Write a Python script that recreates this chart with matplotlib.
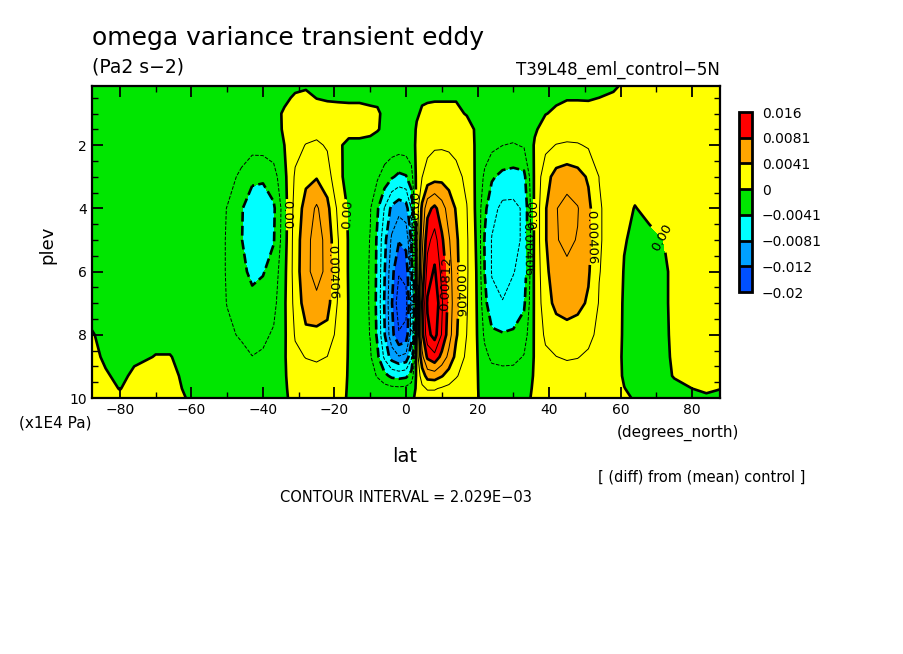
import numpy as np
import matplotlib.pyplot as plt
from matplotlib.colors import ListedColormap, BoundaryNorm

# latitude (degrees_north) and pressure level (x1E4 Pa)
lat = [-87.8, -84, -80, -76, -70, -66, -61, -55, -50, -46, -43, -40, -37, -34,
       -31, -28, -25, -22, -19, -16, -13, -10, -8, -6, -4, -2, 0, 1.5, 3, 4.5,
       6, 8, 10, 12, 14, 17, 20, 22, 24, 27, 30, 33, 36, 39, 42, 45, 48, 51,
       54, 58, 61, 64, 68, 72, 75, 80, 84, 87.8]
plev = [0.13, 0.5, 1, 1.5, 2, 3, 4, 5, 6, 7, 8, 8.7, 9.3, 9.7, 10]

# omega variance (diff), units of 1e-3 Pa2 s-2; one row per latitude, columns follow plev
omega = [
    [-0.4, -0.5, -0.5, -0.4, -0.5, -0.5, -0.5, -0.5, -0.5, -0.6, 0.1, 0.5, 0.7, 0.8, 0.8],      # -87.8
    [-0.4, -0.5, -0.5, -0.5, -0.5, -0.5, -0.5, -0.5, -0.5, -0.5, -0.4, -0.3, 0.2, 0.4, 0.4],    # -84
    [-0.4, -0.5, -0.5, -0.5, -0.5, -0.5, -0.5, -0.5, -0.5, -0.5, -0.5, -0.5, -0.4, -0.05, 0.3], # -80
    [-0.4, -0.5, -0.5, -0.5, -0.5, -0.5, -0.5, -0.5, -0.5, -0.5, -0.5, -0.3, 0.3, 0.5, 0.5],    # -76
    [-0.4, -0.5, -0.5, -0.5, -0.5, -0.5, -0.5, -0.5, -0.5, -0.5, -0.4, 0.05, 0.4, 0.5, 0.5],    # -70
    [-0.4, -0.5, -0.5, -0.5, -0.5, -0.5, -0.5, -0.5, -0.5, -0.5, -0.4, 0.05, 0.3, 0.4, 0.4],    # -66
    [-0.4, -0.5, -0.5, -0.5, -0.5, -0.5, -0.5, -0.5, -0.5, -0.5, -0.5, -0.4, -0.3, -0.2, -0.05],  # -61
    [-0.4, -0.5, -0.5, -0.5, -0.5, -0.5, -0.6, -0.6, -0.6, -0.6, -0.6, -0.5, -0.5, -0.5, -0.5],  # -55
    [-0.4, -0.5, -0.5, -0.5, -0.6, -1.2, -2.1, -2.2, -2.2, -2.1, -1.6, -1.0, -0.6, -0.5, -0.5],  # -50
    [-0.4, -0.5, -0.5, -0.6, -0.9, -2.5, -3.9, -4.0, -3.6, -3.0, -2.3, -1.4, -0.8, -0.6, -0.5],  # -46
    [-0.4, -0.5, -0.5, -0.7, -1.3, -3.6, -5.2, -5.0, -4.5, -3.5, -2.6, -2.0, -1.0, -0.6, -0.5],  # -43
    [-0.4, -0.5, -0.5, -0.7, -1.2, -3.7, -5.4, -5.0, -4.2, -3.2, -2.4, -1.8, -1.0, -0.6, -0.5],  # -40
    [-0.4, -0.5, -0.5, -0.6, -1.0, -2.8, -4.4, -4.2, -3.2, -2.6, -1.8, -1.2, -0.7, -0.5, -0.5],  # -37
    [-0.4, -0.3, 0.2, 0.2, 0.0, -0.5, -0.9, -0.8, -0.5, -0.3, -0.3, -0.2, -0.2, -0.2, -0.2],     # -34
    [-0.3, 0.2, 0.6, 0.9, 1.4, 2.3, 2.8, 3.0, 3.0, 2.7, 2.2, 1.6, 1.0, 0.6, 0.4],                # -31
    [-0.2, 0.4, 0.8, 1.2, 2.1, 3.6, 4.8, 5.4, 5.6, 5.0, 3.6, 2.1, 1.2, 0.7, 0.5],                # -28
    [-0.2, -0.05, 0.8, 1.3, 2.4, 3.9, 6.4, 7.0, 6.8, 5.6, 3.5, 2.3, 1.3, 0.8, 0.5],              # -25
    [-0.3, -0.2, 0.7, 1.1, 1.8, 3.0, 4.6, 5.4, 5.6, 4.8, 3.4, 2.0, 1.1, 0.7, 0.4],               # -22
    [-0.3, -0.2, 0.5, 0.5, 0.2, 0.3, 1.6, 2.1, 2.2, 1.8, 1.3, 0.9, 0.6, 0.4, 0.3],               # -19
    [-0.3, -0.2, 0.4, 0.4, -0.3, -0.4, -0.3, -0.2, -0.2, -0.1, -0.1, -0.1, -0.1, -0.1, -0.1],    # -16
    [-0.4, -0.2, 0.4, 0.4, -0.3, -0.6, -0.9, -1.0, -1.0, -1.0, -1.0, -0.8, -0.6, -0.4, -0.3],    # -13
    [-0.4, -0.3, 0.3, 0.3, -0.4, -1.2, -1.9, -2.1, -2.2, -2.2, -2.1, -1.8, -1.2, -0.7, -0.4],    # -10
    [-0.4, -0.3, 0.2, 0.1, -0.7, -1.8, -3.8, -4.4, -4.5, -4.6, -4.4, -3.6, -2.2, -0.9, -0.4],    # -8
    [-0.4, -0.4, -0.3, -0.3, -0.8, -2.8, -6.2, -7.5, -8.0, -8.3, -8.0, -6.5, -3.5, -1.2, -0.4],  # -6
    [-0.4, -0.4, -0.4, -0.5, -0.9, -3.8, -8.6, -10.5, -11.5, -12.0, -11.5, -9.0, -4.5, -1.5, -0.5],  # -4
    [-0.3, -0.3, -0.4, -0.5, -1.0, -4.5, -9.5, -12.0, -14.0, -15.5, -14.0, -10.0, -4.8, -1.6, -0.5],  # -2
    [-0.3, -0.3, -0.4, -0.5, -0.9, -4.2, -9.0, -11.5, -13.5, -15.0, -13.5, -9.5, -4.5, -1.5, -0.4],  # 0
    [-0.2, -0.2, -0.3, -0.4, -0.7, -2.8, -6.0, -8.0, -9.0, -9.5, -9.0, -6.5, -3.2, -1.0, -0.2],  # 1.5
    [-0.1, -0.1, -0.1, 0.1, 0.3, 0.6, 1.0, 1.0, 1.0, 1.0, 1.0, 0.8, 0.5, 0.3, 0.2],              # 3
    [-0.1, -0.1, 0.1, 0.5, 1.0, 2.0, 4.5, 5.5, 6.5, 8.0, 7.5, 5.5, 3.0, 1.6, 1.0],               # 4.5
    [-0.1, -0.1, 0.2, 0.8, 1.5, 2.8, 7.5, 9.5, 11.0, 12.5, 11.5, 8.5, 4.8, 2.2, 1.2],            # 6
    [-0.1, -0.1, 0.3, 1.0, 1.8, 3.2, 8.6, 11.0, 12.5, 14.0, 13.0, 9.5, 5.0, 2.2, 1.2],           # 8
    [-0.1, -0.1, 0.3, 1.0, 1.8, 3.4, 7.0, 8.5, 9.5, 10.5, 10.0, 7.5, 4.2, 1.8, 1.0],             # 10
    [-0.1, -0.1, 0.3, 1.0, 1.7, 3.2, 5.2, 6.3, 7.0, 7.4, 7.0, 5.5, 3.2, 1.5, 0.9],               # 12
    [-0.1, -0.1, 0.3, 0.9, 1.5, 2.6, 3.9, 4.4, 4.6, 4.6, 4.3, 3.5, 2.2, 1.2, 0.8],               # 14
    [-0.2, -0.2, -0.1, 0.6, 1.0, 1.6, 2.1, 2.3, 2.3, 2.2, 2.0, 1.6, 1.2, 0.8, 0.5],              # 17
    [-0.4, -0.4, -0.4, -0.3, -0.4, -0.6, -0.7, -0.5, -0.3, -0.2, -0.1, 0.0, 0.05, 0.05, 0.05],   # 20
    [-0.4, -0.4, -0.5, -0.6, -1.0, -2.4, -3.6, -4.2, -4.1, -3.4, -2.4, -1.5, -0.8, -0.5, -0.3],  # 22
    [-0.4, -0.5, -0.6, -0.8, -1.5, -3.8, -5.4, -6.2, -6.2, -5.6, -3.6, -2.4, -1.3, -0.8, -0.5],  # 24
    [-0.4, -0.5, -0.7, -1.0, -2.0, -4.6, -6.6, -7.0, -6.8, -6.0, -3.9, -2.6, -1.4, -0.8, -0.5],  # 27
    [-0.3, -0.4, -0.7, -1.1, -2.2, -4.8, -6.6, -6.6, -6.2, -5.2, -3.8, -2.6, -1.3, -0.7, -0.4],  # 30
    [-0.2, -0.3, -0.5, -0.9, -1.8, -4.6, -5.8, -5.8, -5.2, -4.4, -3.0, -1.9, -1.0, -0.5, -0.3],  # 33
    [-0.2, -0.2, -0.2, -0.2, 0.2, 0.4, 0.5, 0.5, 0.5, 0.4, 0.3, 0.2, 0.2, 0.2, 0.2],             # 36
    [-0.2, -0.2, -0.05, 0.6, 1.5, 3.3, 3.9, 3.9, 3.5, 3.2, 2.4, 1.6, 1.0, 0.7, 0.5],             # 39
    [-0.2, -0.2, 0.2, 0.9, 2.1, 4.8, 6.0, 6.0, 5.4, 4.6, 3.0, 2.0, 1.2, 0.8, 0.5],               # 42
    [-0.2, -0.1, 0.5, 1.0, 2.3, 5.2, 6.8, 6.4, 5.8, 4.9, 3.3, 2.2, 1.3, 0.8, 0.5],               # 45
    [-0.2, -0.1, 0.5, 1.0, 2.2, 4.8, 6.2, 6.0, 5.4, 4.6, 3.1, 2.1, 1.2, 0.8, 0.5],               # 48
    [-0.2, -0.1, 0.4, 0.9, 1.8, 3.8, 4.6, 4.6, 4.3, 3.8, 2.6, 1.7, 1.0, 0.7, 0.4],               # 51
    [-0.2, 0.0, 0.3, 0.7, 1.3, 2.0, 2.2, 2.2, 2.1, 1.9, 1.5, 1.1, 0.8, 0.5, 0.3],                # 54
    [-0.1, 0.1, 0.3, 0.5, 0.8, 1.2, 1.3, 1.3, 1.2, 1.0, 0.8, 0.6, 0.4, 0.3, 0.2],                # 58
    [0.1, 0.2, 0.3, 0.4, 0.5, 0.6, 0.4, 0.1, -0.1, -0.2, -0.2, -0.2, -0.1, 0.02, 0.1],           # 61
    [0.2, 0.3, 0.4, 0.5, 0.5, 0.5, -0.05, -0.3, -0.5, -0.5, -0.5, -0.4, -0.3, -0.2, -0.05],      # 64
    [0.2, 0.3, 0.4, 0.5, 0.6, 0.6, 0.3, -0.3, -0.6, -0.6, -0.6, -0.5, -0.4, -0.3, -0.2],         # 68
    [0.2, 0.3, 0.4, 0.5, 0.6, 0.6, 0.5, 0.0, -0.3, -0.3, -0.3, -0.3, -0.2, -0.2, -0.2],          # 72
    [0.2, 0.3, 0.4, 0.5, 0.6, 0.6, 0.6, 0.5, 0.4, 0.4, 0.3, 0.2, 0.05, -0.2, -0.3],              # 75
    [0.2, 0.3, 0.4, 0.5, 0.6, 0.6, 0.6, 0.6, 0.5, 0.5, 0.4, 0.3, 0.2, 0.0, -0.2],                # 80
    [0.2, 0.3, 0.4, 0.5, 0.6, 0.6, 0.6, 0.6, 0.5, 0.5, 0.4, 0.3, 0.2, 0.1, -0.1],                # 84
    [0.2, 0.3, 0.4, 0.5, 0.6, 0.6, 0.6, 0.6, 0.5, 0.5, 0.4, 0.3, 0.2, 0.02, -0.2],               # 87.8
]

interval = 2.029e-3
fill_levels = [-0.02, -0.012174, -0.008116, -0.004058, 0.0, 0.004058, 0.008116, 0.016]
fill_labels = ["\u22120.02", "\u22120.012", "\u22120.0081", "\u22120.0041", "0", "0.0041", "0.0081", "0.016"]
fill_colors = ["#0050ff", "#00a0ff", "#00ffff", "#00e600", "#ffff00", "#ffa500", "#ff0000"]

# where the contour labels sit: contour index (in intervals) -> list of (lat, plev)
label_spots = {
    0: [(-33.3, 4.2), (-17.4, 4.2), (3.0, 3.9), (35.8, 4.2), (72.8, 4.8)],
    2: [(-21.3, 6.0), (13.5, 6.6), (51.5, 4.9)],
    4: [(9.8, 6.4)],
    -2: [(1.8, 5.2), (33.8, 5.3)],
    -4: [(1.0, 7.2)],
}

Z = np.array(omega).T * 1e-3

W, H = 904, 654
fig = plt.figure(figsize=(W / 100, H / 100), dpi=100)
ax = fig.add_axes([92 / W, 1 - 398 / H, 628 / W, 312 / H])

cmap = ListedColormap(fill_colors)
norm = BoundaryNorm(fill_levels, cmap.N)
cf = ax.contourf(lat, plev, Z, levels=fill_levels, cmap=cmap, norm=norm)

fmt = lambda v: "0.00" if abs(v) < 1e-9 else f"{abs(v):.5f}"

# one contour set per level, so each can be labelled on its own
for k in range(-7, 8):
    lev = k * interval
    if lev < Z.min() or lev > Z.max():
        continue
    cs = ax.contour(lat, plev, Z, levels=[lev], colors="k",
                    linewidths=1.9 if k % 2 == 0 else 0.7,
                    linestyles="dashed" if k < 0 else "solid")
    if k in label_spots:
        ax.clabel(cs, manual=label_spots[k], fmt=fmt, fontsize=9.5,
                  inline=True, inline_spacing=1)

ax.set_xlim(-87.8, 87.8)
ax.set_ylim(10, 0.13)
ax.set_xticks(np.arange(-80, 81, 20))
ax.set_xticks(np.arange(-80, 81, 10), minor=True)
ax.set_yticks([2, 4, 6, 8, 10])
ax.set_yticks(np.arange(0.5, 10, 0.5), minor=True)
ax.tick_params(which="both", direction="in", top=True, right=True, labelsize=10)
ax.tick_params(which="major", length=8, width=1.3)
ax.tick_params(which="minor", length=4, width=1)
for s in ax.spines.values():
    s.set_linewidth(1.6)

cax = fig.add_axes([739 / W, 1 - 292 / H, 13 / W, 180 / H])
cb = fig.colorbar(cf, cax=cax, ticks=fill_levels, drawedges=True, spacing="uniform")
cb.ax.set_yticklabels(fill_labels)
cb.ax.tick_params(length=0, labelsize=10, pad=7)
cb.outline.set_linewidth(2)
cb.dividers.set_linewidth(2)


def ftext(x, y, s, **kw):
    fig.text(x / W, 1 - y / H, s, **kw)


ftext(92, 38, "omega variance transient eddy", fontsize=18, ha="left", va="center")
ftext(92, 67, "(Pa2 s\u22122)", fontsize=13.5, ha="left", va="center")
ftext(720, 70, "T39L48_eml_control\u22125N", fontsize=12, ha="right", va="center")
ftext(47, 245, "plev", fontsize=13, rotation=90, ha="center", va="center")
ftext(55, 423, "(x1E4 Pa)", fontsize=11, ha="center", va="center")
ftext(678, 433, "(degrees_north)", fontsize=11, ha="center", va="center")
ftext(405, 457, "lat", fontsize=14, ha="center", va="center")
ftext(702, 477, "[ (diff) from (mean) control ]", fontsize=10.5, ha="center", va="center")
ftext(406, 497, "CONTOUR INTERVAL = 2.029E\u221203", fontsize=10.5, ha="center", va="center")

fig.savefig("out.png", dpi=100)
